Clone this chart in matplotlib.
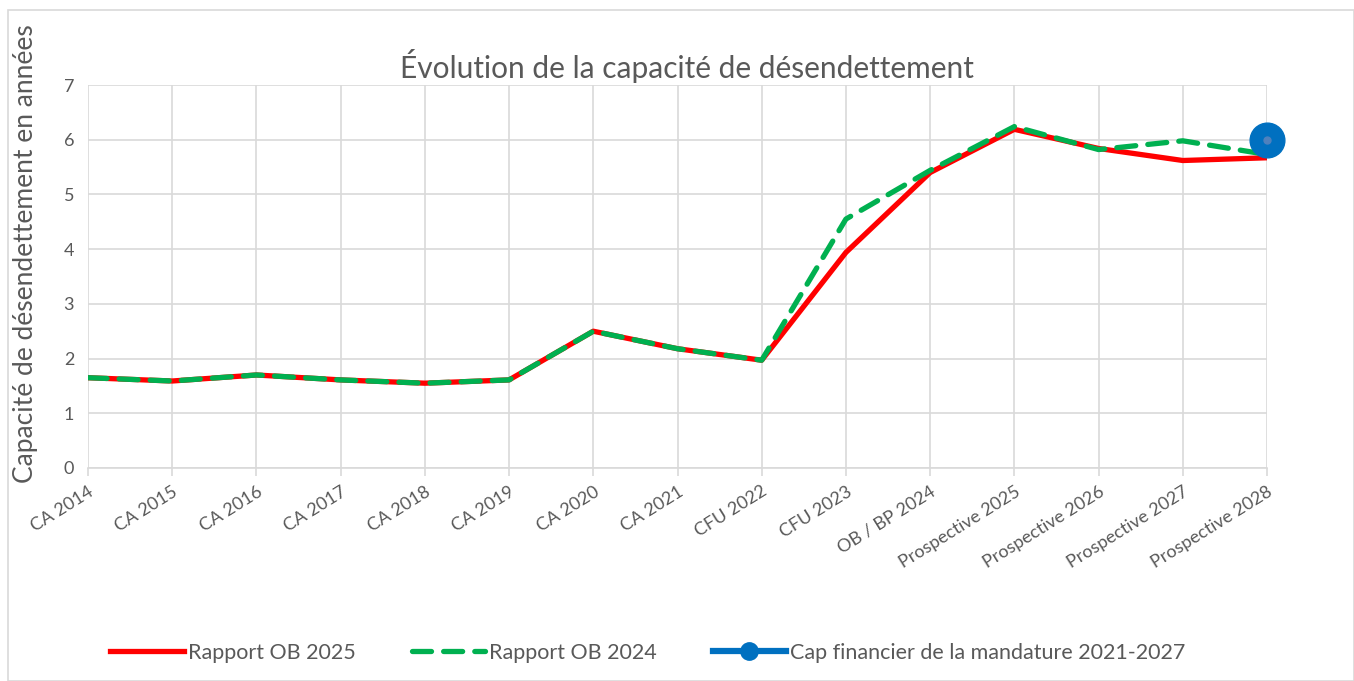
import matplotlib.pyplot as plt
from matplotlib.patches import Rectangle

plt.rcParams["font.family"] = ["Lato", "DejaVu Sans"]

# ---- Data ----
categories = ["CA 2014", "CA 2015", "CA 2016", "CA 2017", "CA 2018", "CA 2019",
              "CA 2020", "CA 2021", "CFU 2022", "CFU 2023", "OB / BP 2024",
              "Prospective 2025", "Prospective 2026", "Prospective 2027",
              "Prospective 2028"]
rapport_2025 = [1.65, 1.59, 1.70, 1.61, 1.55, 1.61, 2.50, 2.18, 1.97, 3.94,
                5.40, 6.19, 5.84, 5.62, 5.67]
rapport_2024 = [1.65, 1.59, 1.70, 1.61, 1.55, 1.61, 2.50, 2.18, 1.97, 4.55,
                5.44, 6.24, 5.82, 5.98, 5.73]
cap_index = [14]
cap_values = [6.0]
yticks = [0, 1, 2, 3, 4, 5, 6, 7]

W, H = 1354, 681
fig = plt.figure(figsize=(W / 100, H / 100), dpi=100)
# chart area border
fig.patches.append(Rectangle((8 / W, 0), (W - 8) / W, (H - 10) / H,
                             transform=fig.transFigure, fill=False,
                             edgecolor="#D9D9D9", lw=1.2))

ax = fig.add_axes([88 / W, 1 - 468 / H, (1267 - 88) / W, (468 - 85) / H])

x = list(range(len(categories)))
ax.plot(x, rapport_2025, color="#FF0000", lw=3.8, solid_joinstyle="round",
        label="Rapport OB 2025", zorder=3)
ax.plot(x, rapport_2024, color="#00B050", lw=3.8, dashes=(3.6, 2.3),
        dash_capstyle="round", label="Rapport OB 2024", zorder=4)
ax.plot(cap_index, cap_values, color="#0070C0", lw=4.5, marker="o", ms=25,
        markerfacecolor="#0070C0", markeredgecolor="#0070C0",
        label="Cap financier de la mandature 2021-2027", zorder=5, clip_on=False)
ax.plot(cap_index, cap_values, "o", color="#4F81BD", ms=5, zorder=6, clip_on=False)

ax.set_xlim(0, 14)
ax.set_ylim(0, 7)
ax.set_yticks(yticks)
ax.set_xticks(x)
ax.set_xticklabels(categories, rotation=32, ha="right", rotation_mode="anchor",
                   color="#595959", fontsize=13)
ax.tick_params(axis="y", length=0, labelcolor="#595959", labelsize=13, pad=10)
ax.tick_params(axis="x", length=6, color="#D9D9D9", width=1.2, pad=5)
ax.grid(True, color="#D9D9D9", lw=1.2)
ax.set_axisbelow(True)
for s in ["top", "right", "left"]:
    ax.spines[s].set_visible(False)
ax.spines["bottom"].set_color("#D9D9D9")
ax.spines["bottom"].set_linewidth(1.2)

ax.set_ylabel("Capacité de désendettement en années", fontsize=19,
              color="#595959")
ax.yaxis.set_label_coords(-50 / (1267 - 88), 0.56)
fig.text(687 / W, 1 - 66 / H, "Évolution de la capacité de désendettement",
         ha="center", va="center", fontsize=21.5, color="#595959")

leg = fig.legend(loc="center", bbox_to_anchor=(648 / W, 1 - 653 / H), ncol=3,
                 frameon=False, fontsize=15.5, handlelength=3.4,
                 columnspacing=2.6, handletextpad=0.2, markerscale=0.5)
for t in leg.get_texts():
    t.set_color("#595959")

fig.savefig("out.png", dpi=100)
